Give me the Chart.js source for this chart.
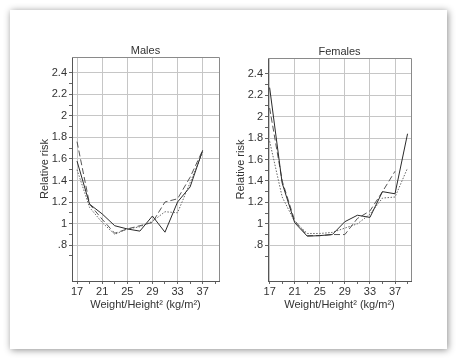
<!DOCTYPE html>
<html>
<head>
<meta charset="utf-8">
<script src="https://cdn.jsdelivr.net/npm/chart.js@4"></script>
<style>
  body { margin: 0; background: #fff; width: 456px; height: 358px; overflow: hidden; position: relative; }
  #card { position: absolute; left: 10px; top: 10px; width: 437px; height: 339px; background: #fff;
          box-shadow: 1px 1px 7px rgba(0,0,0,0.45); }
  .panel { position: absolute; top: 0; width: 228px; height: 358px; }
</style>
</head>
<body>
<div id="card"></div>
<div class="panel" style="left:0"><canvas id="males" width="228" height="358"></canvas></div>
<div class="panel" style="left:228px"><canvas id="females" width="228" height="358"></canvas></div>
<script>
// BMI categories (kg/m2)
const bmi = [17, 19, 21, 23, 25, 27, 29, 31, 33, 35, 37, 39];
const xTickValues = [17, 19, 21, 23, 25, 27, 29, 31, 33, 35, 37, 39];
const xLabelValues = [17, 21, 25, 29, 33, 37];
const yTickValues = [0.7, 0.8, 0.9, 1, 1.1, 1.2, 1.3, 1.4, 1.5, 1.6, 1.7, 1.8, 1.9, 2, 2.1, 2.2, 2.3, 2.4];
const yLabelValues = [0.8, 1, 1.2, 1.4, 1.6, 1.8, 2, 2.2, 2.4];

// relative risk, males
const maleSolid  = [1.58, 1.18, 1.09, 0.98, 0.95, 0.93, 1.07, 0.92, 1.20, 1.34, 1.68, null];
const maleDashed = [1.76, 1.18, 1.04, 0.91, 0.95, 0.98, 1.01, 1.20, 1.23, 1.43, 1.68, null];
const maleDotted = [1.50, 1.15, 1.01, 0.90, 0.95, 0.97, 1.02, 1.11, 1.10, 1.38, 1.66, null];

// relative risk, females
const femaleSolid  = [2.27, 1.38, 1.01, 0.885, 0.89, 0.90, 1.02, 1.08, 1.06, 1.30, 1.28, 1.84];
const femaleDashed = [2.08, 1.40, 1.03, 0.89, 0.89, 0.90, 0.90, 1.05, 1.12, 1.30, 1.49, null];
const femaleDotted = [1.77, 1.25, 1.02, 0.91, 0.91, 0.92, 0.96, 1.00, 1.09, 1.24, 1.25, 1.52];

const textColor = '#333';
const fontFamily = '"Liberation Sans", Arial, Helvetica, sans-serif';

const toPoints = (values) => bmi.map((x, i) => ({ x: x, y: values[i] })).filter(p => p.y !== null);
const isLabel = (list, v) => list.some(l => Math.abs(l - v) < 1e-6);

// frame round the plot area + panel title
const framePlugin = {
    id: 'frame',
    afterDraw(chart, args, opts) {
        const { ctx, chartArea } = chart;
        ctx.save();
        ctx.strokeStyle = '#8a8a8a';
        ctx.lineWidth = 1;
        ctx.beginPath();
        ctx.moveTo(chartArea.left, Math.round(chartArea.top) + 0.5);
        ctx.lineTo(Math.round(chartArea.right) + 0.5, Math.round(chartArea.top) + 0.5);
        ctx.lineTo(Math.round(chartArea.right) + 0.5, chartArea.bottom);
        ctx.stroke();
        ctx.fillStyle = textColor;
        ctx.font = '11px ' + fontFamily;
        ctx.textAlign = 'center';
        ctx.textBaseline = 'middle';
        ctx.fillText(opts.text, (chartArea.left + chartArea.right) / 2, chartArea.top - 6.5);
        ctx.restore();
    }
};

const makeChart = (id, title, series, box) => {
    const styles = [
        { color: '#2a2a2a', dash: [] },
        { color: '#555', dash: [6, 3] },
        { color: '#666', dash: [1.5, 1.5] }
    ];
    return new Chart(document.getElementById(id), {
        type: 'line',
        data: {
            datasets: series.map((values, i) => ({
                data: toPoints(values),
                borderColor: styles[i].color,
                borderDash: styles[i].dash,
                borderWidth: 1,
                pointRadius: 0,
                tension: 0,
                fill: false
            }))
        },
        options: {
            responsive: false,
            animation: false,
            layout: { padding: { left: box.padLeft, right: box.padRight, top: box.padTop, bottom: 44 } },
            plugins: {
                legend: { display: false },
                tooltip: { enabled: false },
                frame: { text: title }
            },
            scales: {
                x: {
                    type: 'linear',
                    min: box.xMin,
                    max: box.xMax,
                    afterFit: (s) => { s.height = 33; },
                    afterBuildTicks: (s) => { s.ticks = xTickValues.map(v => ({ value: v })); },
                    ticks: {
                        autoSkip: false,
                        maxRotation: 0,
                        padding: 1,
                        color: textColor,
                        font: { family: fontFamily, size: 11 },
                        callback: (v) => isLabel(xLabelValues, v) ? String(v) : ''
                    },
                    grid: {
                        color: (ctx) => ctx.tick && isLabel(xLabelValues, ctx.tick.value) ? '#c6c6c6' : 'rgba(0,0,0,0)',
                        tickColor: '#666',
                        tickLength: 3
                    },
                    border: { color: '#555' },
                    title: {
                        display: true,
                        text: 'Weight/Height² (kg/m²)',
                        color: textColor,
                        padding: 2,
                        font: { family: fontFamily, size: 11 }
                    }
                },
                y: {
                    type: 'linear',
                    min: 0.467,
                    max: 2.546,
                    afterFit: (s) => { s.width = box.yWidth; },
                    afterBuildTicks: (s) => { s.ticks = yTickValues.map(v => ({ value: v })); },
                    ticks: {
                        autoSkip: false,
                        padding: 2,
                        color: textColor,
                        font: { family: fontFamily, size: 11 },
                        callback: (v) => {
                            if (!isLabel(yLabelValues, v)) return '';
                            if (Math.abs(v - 0.8) < 1e-6) return '.8';
                            if (Math.abs(v - 1) < 1e-6) return '1';
                            if (Math.abs(v - 2) < 1e-6) return '2';
                            return v.toFixed(1);
                        }
                    },
                    grid: {
                        color: (ctx) => ctx.tick && isLabel(yLabelValues, ctx.tick.value) ? '#c6c6c6' : 'rgba(0,0,0,0)',
                        tickColor: '#666',
                        tickLength: 3
                    },
                    border: { color: '#555' },
                    title: {
                        display: true,
                        text: 'Relative risk',
                        color: textColor,
                        padding: 2,
                        font: { family: fontFamily, size: 11 }
                    }
                }
            }
        },
        plugins: [framePlugin]
    });
};

makeChart('males', 'Males', [maleSolid, maleDashed, maleDotted],
    { padLeft: 36, yWidth: 36, padRight: 9, padTop: 57, xMin: 16.2, xMax: 39.6 });
makeChart('females', 'Females', [femaleSolid, femaleDashed, femaleDotted],
    { padLeft: 4, yWidth: 36, padRight: 45, padTop: 58, xMin: 16.74, xMax: 39.55 });
</script>
</body>
</html>
